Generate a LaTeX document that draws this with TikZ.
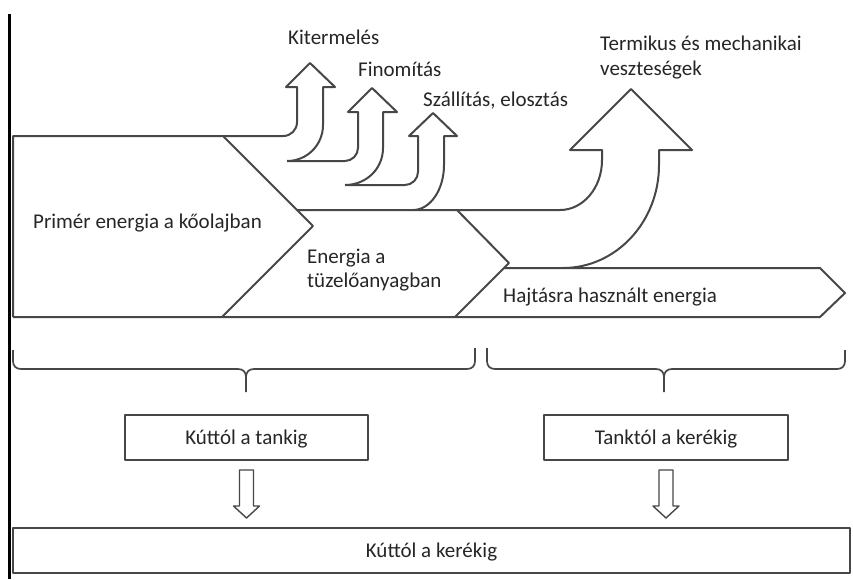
\documentclass[tikz,border=0pt]{standalone}
\usepackage{fontspec}
\setmainfont{Carlito}
\usetikzlibrary{calc}
\begin{document}
\begin{tikzpicture}[x=1pt,y=-1pt,line join=round,
  flow/.style={draw=black!72,line width=2pt},
  brc/.style={draw=black!72,line width=1.7pt},
  darr/.style={draw=black!72,line width=1.4pt},
  lbl/.style={anchor=base west,inner sep=0pt,text=black!85,font=\fontsize{21}{25}\selectfont},
  box/.style={draw=black!72,line width=2pt,minimum height=45pt,text height=13.5pt,text depth=0pt,inner sep=0pt,text=black!85,font=\fontsize{21}{25}\selectfont}]
\fill[white] (0,0) rectangle (853,579);
\useasboundingbox (0,0) rectangle (853,579);
% frame line
\draw[line width=3pt,black] (9,14) -- (9,579);
% primary energy shape
\draw[flow] (13,317) -- (13,136) -- (283,136) .. controls (291,136) and (297,130) .. (297,122) -- (297,87)
  -- (286,87) -- (310,63) -- (335,87) -- (323,87) -- (323,125) .. controls (323,145) and (307,161) .. (287,161);
\draw[flow] (223,136) -- (313,226) -- (222,317);
% Finomitas
\draw[flow] (287,161) -- (345,161) .. controls (352,161) and (358,155) .. (358,148) -- (358,112)
  -- (348,112) -- (372,88) -- (397,112) -- (383,112) -- (383,148) .. controls (383,169) and (366,185) .. (345,185);
% Szallitas
\draw[flow] (345,185) -- (405,185) .. controls (412,185) and (418,179) .. (418,172) -- (418,136)
  -- (409,136) -- (433,113) -- (457,136) -- (444,136) -- (444,165) .. controls (444,190) and (430,210) .. (413,210);
% fuel shape and big loss arrow
\draw[flow] (297,210) -- (560,210) .. controls (583,210) and (602,188) .. (602,160) -- (602,150)
  -- (570,150) -- (631,89) -- (692,150) -- (659,150) -- (659,165) .. controls (659,222) and (616,268) .. (563,268);
\draw[flow] (457,210) -- (509,263) -- (455,317);
% driving energy shape
\draw[flow] (504,268) -- (820,268) -- (845,293) -- (820,317) -- (13,317);
% labels
\node[lbl] (kit) at (288,44) {Kitermelés};
\node[lbl] (fin) at (358,76) {Finomítás};
\node[lbl] (szal) at (423,106) {Szállítás, elosztás};
\node[lbl] (term) at (600,50) {Termikus és mechanikai};
\node[lbl] (vesz) at (600,75) {veszteségek};
\node[lbl] (prim) at (33,228) {Primér energia a kőolajban};
\node[lbl] (en1) at (307,263) {Energia a};
\node[lbl] (en2) at (307,287) {tüzelőanyagban};
\node[lbl] (hajt) at (503,302) {Hajtásra használt energia};
% braces
\draw[brc] (13,350) -- (13,361) .. controls (13,366) and (16,369) .. (21,369) -- (238,369)
  .. controls (243,369) and (246,372) .. (246,377) -- (246,392);
\draw[brc] (246,377) .. controls (246,372) and (249,369) .. (254,369) -- (467,369)
  .. controls (472,369) and (475,366) .. (475,361) -- (475,348);
\draw[brc] (487,348) -- (487,361) .. controls (487,366) and (490,369) .. (495,369) -- (656,369)
  .. controls (661,369) and (664,372) .. (664,377) -- (664,392);
\draw[brc] (664,377) .. controls (664,372) and (667,369) .. (672,369) -- (837,369)
  .. controls (842,369) and (845,366) .. (845,361) -- (845,350);
% boxes
\node[box,minimum width=243pt] (wt) at (246.5,437.5) {Kúttól a tankig};
\node[box,minimum width=244pt] (tw) at (666,437.5) {Tanktól a kerékig};
\node[box,minimum width=837pt] (ww) at (431.5,550.5) {Kúttól a kerékig};
% hollow down arrows
\draw[darr] ($(wt.south)+(-7,9)$) -- ++(14,0) -- ++(0,36) -- ++(6,0) -- ++(-13,12) -- ++(-13,-12) -- ++(6,0) -- cycle;
\draw[darr] ($(tw.south)+(-7,9)$) -- ++(14,0) -- ++(0,36) -- ++(6,0) -- ++(-13,12) -- ++(-13,-12) -- ++(6,0) -- cycle;
\end{tikzpicture}
\end{document}
